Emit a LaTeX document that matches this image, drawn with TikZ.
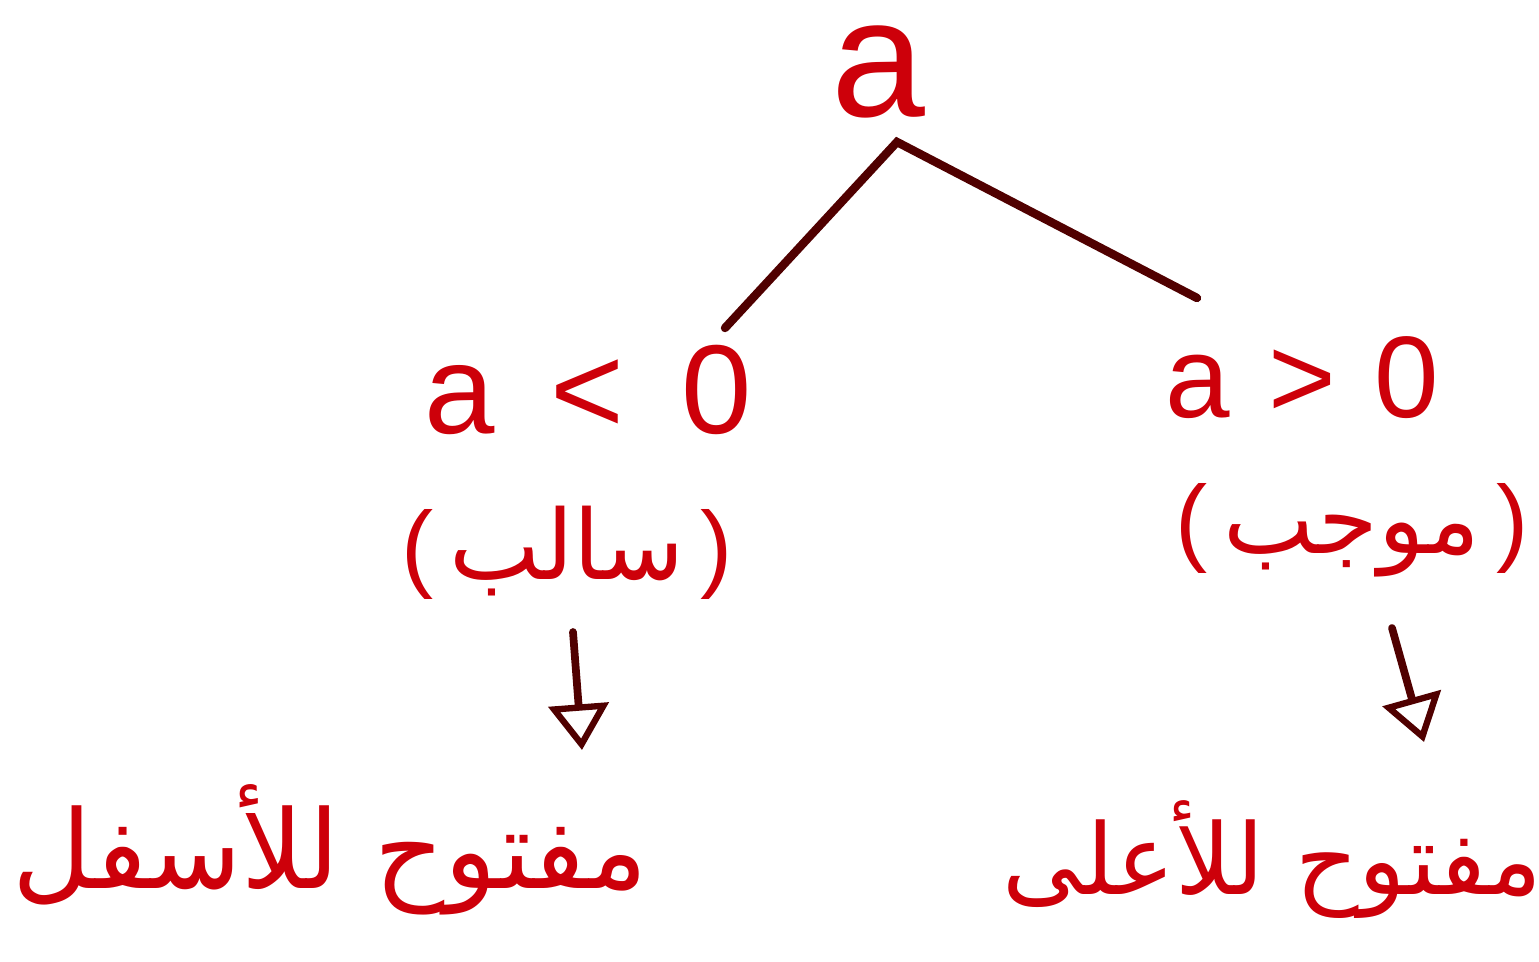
\documentclass[tikz,border=0pt]{standalone}
\usepackage{fontspec}
\setmainfont{Liberation Sans}
\newfontfamily\arabicfont[Script=Arabic]{DejaVu Sans}
\TeXXeTstate=1
\usetikzlibrary{arrows.meta}
\definecolor{ink}{RGB}{205,0,10}
\definecolor{linkcol}{RGB}{80,0,0}
\tikzset{
  lbl/.style={text=ink, inner sep=0pt, anchor=center},
  link/.style={draw=linkcol, line width=4.8pt, line cap=round},
  downarrow/.style={draw=linkcol, line width=4.4pt, line cap=round,
    -{Triangle[open, length=26pt, width=34pt, line width=3.6pt]}},
}
\begin{document}
\begin{tikzpicture}[x=0.02cm, y=-0.02cm]
\useasboundingbox (0,0) rectangle (1539,962);
% top
\node[lbl, font=\fontsize{96}{100}\selectfont] (ta) at (878,72) {a};
\coordinate (apex) at (897,142);
\coordinate (lend) at (725,328);
\coordinate (rend) at (1197,298);
\draw[link] (lend) -- (apex) -- (rend);
% level 1
\node[lbl, font=\fontsize{72}{80}\selectfont] (l1) at (588,390) {a\ \,<\ \,0};
\node[lbl, font=\fontsize{66}{72}\selectfont] (r1) at (1302,378) {a\,\,>\,\,0};
% level 2
\node[lbl, font=\fontsize{55}{60}\selectfont] (l2) at (567,553) {(\,{\arabicfont\beginR سالب\endR}\,)};
\node[lbl, font=\fontsize{55}{60}\selectfont] (r2) at (1352,530) {(\,{\arabicfont\beginR موجب\endR}\,)};
% arrows
\coordinate (la) at (573,632);
\coordinate (lb) at (582,750);
\coordinate (ra) at (1392,628);
\coordinate (rb) at (1424,742);
\draw[downarrow] (la) -- (lb);
\draw[downarrow] (ra) -- (rb);
% bottom
\node[lbl, font=\fontsize{62}{70}\selectfont\arabicfont] (l3) at (330,850) {\beginR مفتوح للأسفل\endR};
\node[lbl, font=\fontsize{56}{64}\selectfont\arabicfont] (r3) at (1272,860) {\beginR مفتوح للأعلى\endR};
\end{tikzpicture}
\end{document}
